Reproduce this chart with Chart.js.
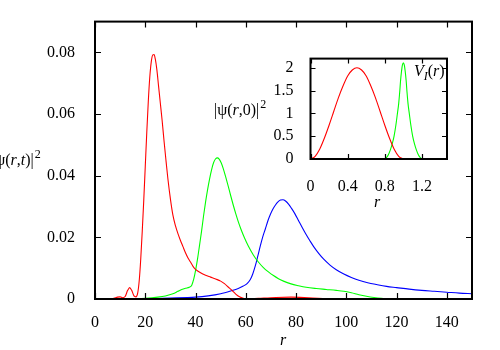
<!DOCTYPE html>
<html>
<head>
<meta charset="utf-8">
<script src="https://cdn.jsdelivr.net/npm/chart.js@4"></script>
<style>
  html, body { margin: 0; padding: 0; background: #ffffff; }
  #wrap { position: relative; width: 500px; height: 350px; overflow: hidden; background: #fff; }
  #main { position: absolute; left: 0; top: 0; }
  #inset { position: absolute; left: 250px; top: 40px; }
</style>
</head>
<body>
<div id="wrap">
  <canvas id="main" width="500" height="350"></canvas>
  <canvas id="inset" width="210" height="175"></canvas>
</div>
<script>
// ---------- main plot data: |psi(r,t)|^2 ----------
const redR = [0, 6, 7.5, 9, 10, 11, 12, 13, 13.8, 14.6, 15.5, 16.3, 17, 17.6, 18.2, 18.8, 19.4, 20, 20.6, 21.2, 21.8, 22.4, 23, 23.5, 24, 24.6, 25.3, 26, 26.7, 27.5, 28.3, 29, 30, 31, 32, 33, 34, 35, 36, 37, 38, 39, 40, 42, 44, 46, 48, 50, 51.5, 53, 54.5, 56, 57.5, 59, 60.5, 65, 72, 78, 85, 95, 150];
const redV = [0, 0, 0.0002, 0.0006, 0.0007, 0.0004, 0.0008, 0.0028, 0.0037, 0.0028, 0.001, 0.0007, 0.002, 0.006, 0.013, 0.022, 0.032, 0.043, 0.054, 0.064, 0.072, 0.077, 0.0792, 0.0793, 0.0778, 0.0745, 0.069, 0.0635, 0.058, 0.051, 0.0445, 0.039, 0.0325, 0.0272, 0.0238, 0.0212, 0.019, 0.017, 0.015, 0.0133, 0.012, 0.0106, 0.0096, 0.0085, 0.0077, 0.0071, 0.0065, 0.0058, 0.005, 0.0039, 0.0028, 0.0016, 0.0007, 0.0002, 0, 0.0002, 0.0005, 0.0006, 0.0004, 0, 0];

const greenR = [0, 15, 20, 25, 28, 31, 33, 34.5, 36, 37.5, 38.5, 39.3, 40, 40.8, 41.6, 42.4, 43.2, 44, 44.8, 45.6, 46.4, 47.2, 48, 48.7, 49.4, 50.2, 51, 52, 53, 54, 55, 56, 57, 58, 59.5, 61, 63, 65, 67, 69, 71, 73, 75, 78, 81, 84, 88, 92, 96, 99, 102, 105, 108, 111, 114, 117, 150];
const greenV = [0, 0, 0.0002, 0.0006, 0.001, 0.0017, 0.0025, 0.0031, 0.0035, 0.0038, 0.0045, 0.0065, 0.0092, 0.013, 0.0175, 0.022, 0.027, 0.0315, 0.0355, 0.039, 0.042, 0.0443, 0.0455, 0.0458, 0.0454, 0.0442, 0.0424, 0.0396, 0.0366, 0.0335, 0.0305, 0.0277, 0.0251, 0.0228, 0.0198, 0.0172, 0.0143, 0.012, 0.0102, 0.0088, 0.0076, 0.0066, 0.0058, 0.0049, 0.0043, 0.0038, 0.0034, 0.0031, 0.0028, 0.0025, 0.002, 0.0014, 0.0009, 0.0005, 0.0002, 0, 0];

const blueR = [0, 15, 20, 30, 40, 45, 50, 54, 57, 59, 60.5, 61.8, 62.8, 63.8, 64.8, 65.8, 66.8, 67.8, 68.8, 69.8, 70.8, 71.8, 72.8, 73.8, 74.8, 75.8, 77, 78.2, 79.5, 81, 82.5, 84, 85.5, 87, 89, 91, 93.5, 96, 99, 102, 105, 108.5, 112, 116, 120, 125, 130, 135, 140, 145, 150];
const blueV = [0, 0, 0.0001, 0.0003, 0.0006, 0.001, 0.0017, 0.0026, 0.0034, 0.0042, 0.005, 0.0063, 0.0082, 0.0108, 0.014, 0.0173, 0.0203, 0.0228, 0.0254, 0.0275, 0.0292, 0.0305, 0.0315, 0.0321, 0.0322, 0.0318, 0.0308, 0.0294, 0.0277, 0.0254, 0.0231, 0.0209, 0.0189, 0.017, 0.0148, 0.0129, 0.011, 0.0095, 0.0081, 0.007, 0.0061, 0.0053, 0.0047, 0.0041, 0.0037, 0.0032, 0.0028, 0.0025, 0.0022, 0.0019, 0.0017];

const mainXTicks = [0, 20, 40, 60, 80, 100, 120, 140];
const mainXLabels = ["0", "20", "40", "60", "80", "100", "120", "140"];
const mainYTicks = [0, 0.02, 0.04, 0.06, 0.08];
const mainYLabels = ["0", "0.02", "0.04", "0.06", "0.08"];

// ---------- inset data: V_I(r) ----------
const insetRedR = [0, 0.05, 0.1, 0.15, 0.2, 0.25, 0.3, 0.35, 0.4, 0.45, 0.5, 0.55, 0.6, 0.65, 0.7, 0.75, 0.8, 0.85, 0.9, 0.95, 1.0];
const insetRedV = [0, 0.06, 0.22, 0.46, 0.74, 1.04, 1.34, 1.6, 1.82, 1.95, 2.0, 1.95, 1.82, 1.6, 1.34, 1.04, 0.74, 0.46, 0.22, 0.06, 0];
const insetGreenR = [0.8, 0.82, 0.84, 0.86, 0.88, 0.9, 0.92, 0.935, 0.95, 0.96, 0.97, 0.98, 0.99, 1.0, 1.01, 1.02, 1.03, 1.04, 1.05, 1.065, 1.08, 1.1, 1.12, 1.14, 1.16, 1.18, 1.2];
const insetGreenV = [0, 0.035, 0.1, 0.2, 0.33, 0.5, 0.75, 0.98, 1.22, 1.45, 1.72, 1.92, 2.06, 2.11, 2.06, 1.92, 1.72, 1.45, 1.22, 0.98, 0.75, 0.5, 0.33, 0.2, 0.1, 0.035, 0];
const insetXTicks = [0, 0.4, 0.8, 1.2];
const insetXLabels = ["0", "0.4", "0.8", "1.2"];
const insetYTicks = [0, 0.5, 1, 1.5, 2];
const insetYLabels = ["0", "0.5", "1", "1.5", "2"];

const SERIF = '"Liberation Serif", "Times New Roman", serif';
const FS = 16;

function pts(xs, ys) { return xs.map((x, i) => ({ x: x, y: ys[i] })); }

function drawRich(ctx, x, y, segs, size) {
  ctx.save();
  ctx.textBaseline = 'alphabetic';
  ctx.textAlign = 'left';
  ctx.fillStyle = '#000';
  for (const s of segs) {
    const fs = (s.sup || s.sub) ? Math.round(size * 0.72) : size;
    ctx.font = (s.it ? 'italic ' : '') + fs + 'px ' + SERIF;
    const dy = s.sup ? -size * 0.45 : (s.sub ? size * 0.25 : 0);
    ctx.fillText(s.t, x, y + dy);
    x += ctx.measureText(s.t).width + (s.gap || 0);
  }
  ctx.restore();
}

function framePlugin(opts) {
  return {
    id: 'frame_' + opts.name,
    afterDatasetsDraw(chart) {
      const ctx = chart.ctx;
      const a = chart.chartArea;
      const xs = chart.scales.x, ys = chart.scales.y;
      ctx.save();
      ctx.strokeStyle = '#000';
      ctx.lineWidth = 1.2;
      ctx.beginPath();
      for (const v of opts.xt) {
        const px = Math.round(xs.getPixelForValue(v)) + 0.5;
        ctx.moveTo(px, a.bottom); ctx.lineTo(px, a.bottom - opts.tl);
        ctx.moveTo(px, a.top); ctx.lineTo(px, a.top + opts.tl);
      }
      for (const v of opts.yt) {
        const py = Math.round(ys.getPixelForValue(v)) + 0.5;
        ctx.moveTo(a.left, py); ctx.lineTo(a.left + opts.tl, py);
        ctx.moveTo(a.right, py); ctx.lineTo(a.right - opts.tl, py);
      }
      ctx.stroke();
      ctx.lineWidth = 2;
      ctx.strokeRect(a.left, a.top, a.right - a.left, a.bottom - a.top);
      ctx.restore();
      if (opts.text) opts.text(ctx, chart);
    }
  };
}

function fixedTicks(arr) {
  return function (scale) { scale.ticks = arr.map(v => ({ value: v })); };
}
function labelFor(ticks, labels) {
  return (v) => labels[ticks.findIndex(t => Math.abs(t - v) < 1e-9)];
}

function build() {
  // ---------- main chart ----------
  new Chart(document.getElementById('main'), {
    type: 'line',
    data: {
      datasets: [
        { data: pts(redR, redV), borderColor: '#ff0000' },
        { data: pts(greenR, greenV), borderColor: '#00ff00' },
        { data: pts(blueR, blueV), borderColor: '#0000ff' }
      ]
    },
    options: {
      responsive: false, animation: false, devicePixelRatio: 1,
      layout: { padding: { top: 20, right: 28, left: 0, bottom: 0 } },
      elements: {
        point: { radius: 0 },
        line: { borderWidth: 1.1, cubicInterpolationMode: 'monotone', fill: false }
      },
      plugins: { legend: { display: false }, tooltip: { enabled: false } },
      scales: {
        x: {
          type: 'linear', min: 0, max: 150,
          afterBuildTicks: fixedTicks(mainXTicks),
          afterFit(s) { s.height = 51; },
          grid: { display: false }, border: { display: false },
          ticks: { color: '#000', padding: 6, maxRotation: 0, autoSkip: false,
            font: { family: SERIF, size: FS },
            callback: labelFor(mainXTicks, mainXLabels) }
        },
        y: {
          type: 'linear', min: 0, max: 0.09,
          afterBuildTicks: fixedTicks(mainYTicks),
          afterFit(s) { s.width = 95; },
          grid: { display: false }, border: { display: false },
          ticks: { color: '#000', padding: 12, autoSkip: false,
            font: { family: SERIF, size: FS },
            callback: labelFor(mainYTicks, mainYLabels) }
        }
      }
    },
    plugins: [framePlugin({
      name: 'main', xt: mainXTicks, yt: mainYTicks, tl: 6,
      text(ctx, chart) {
        // y-axis label (partly outside the canvas, as in the reference)
        drawRich(ctx, -8, 165, [
          { t: '|' }, { t: 'ψ' }, { t: '(' }, { t: 'r', it: true }, { t: ',' }, { t: 't', it: true }, { t: ')' }, { t: '|', gap: 1 }, { t: '2', sup: true }
        ], FS);
        // curve label
        drawRich(ctx, 214, 115, [
          { t: '|' }, { t: 'ψ' }, { t: '(' }, { t: 'r', it: true }, { t: ',' }, { t: '0' }, { t: ')' }, { t: '|', gap: 1 }, { t: '2', sup: true }
        ], FS);
        // x-axis title
        ctx.save();
        ctx.fillStyle = '#000';
        ctx.font = 'italic ' + FS + 'px ' + SERIF;
        ctx.textAlign = 'center';
        ctx.textBaseline = 'alphabetic';
        ctx.fillText('r', 283, 345);
        ctx.restore();
      }
    })]
  });

  // ---------- inset chart ----------
  new Chart(document.getElementById('inset'), {
    type: 'line',
    data: {
      datasets: [
        { data: pts(insetRedR, insetRedV), borderColor: '#ff0000' },
        { data: pts(insetGreenR, insetGreenV), borderColor: '#00ff00' }
      ]
    },
    options: {
      responsive: false, animation: false, devicePixelRatio: 1,
      layout: { padding: { top: 15, right: 13, left: 0, bottom: 0 } },
      elements: {
        point: { radius: 0 },
        line: { borderWidth: 1.1, cubicInterpolationMode: 'monotone', fill: false }
      },
      plugins: { legend: { display: false }, tooltip: { enabled: false } },
      scales: {
        x: {
          type: 'linear', min: 0, max: 1.47,
          afterBuildTicks: fixedTicks(insetXTicks),
          afterFit(s) { s.height = 56; },
          grid: { display: false }, border: { display: false },
          ticks: { color: '#000', padding: 10, maxRotation: 0, autoSkip: false,
            font: { family: SERIF, size: FS },
            callback: labelFor(insetXTicks, insetXLabels) }
        },
        y: {
          type: 'linear', min: 0, max: 2.2,
          afterBuildTicks: fixedTicks(insetYTicks),
          afterFit(s) { s.width = 60.5; },
          grid: { display: false }, border: { display: false },
          ticks: { color: '#000', padding: 9, autoSkip: false,
            font: { family: SERIF, size: FS },
            callback: labelFor(insetYTicks, insetYLabels) }
        }
      }
    },
    plugins: [framePlugin({
      name: 'inset', xt: insetXTicks, yt: insetYTicks, tl: 5,
      text(ctx, chart) {
        drawRich(ctx, 164, 36, [
          { t: 'V', it: true }, { t: 'I', it: true, sub: true }, { t: '(' }, { t: 'r', it: true }, { t: ')' }
        ], FS);
        ctx.save();
        ctx.fillStyle = '#000';
        ctx.font = 'italic ' + FS + 'px ' + SERIF;
        ctx.textAlign = 'center';
        ctx.textBaseline = 'alphabetic';
        ctx.fillText('r', 127, 167);
        ctx.restore();
      }
    })]
  });
}

const fontLoads = document.fonts && document.fonts.load
  ? Promise.all([
      document.fonts.load('16px "Liberation Serif"'),
      document.fonts.load('italic 16px "Liberation Serif"')
    ]).catch(() => null)
  : Promise.resolve();
fontLoads.then(build, build);
</script>
</body>
</html>
